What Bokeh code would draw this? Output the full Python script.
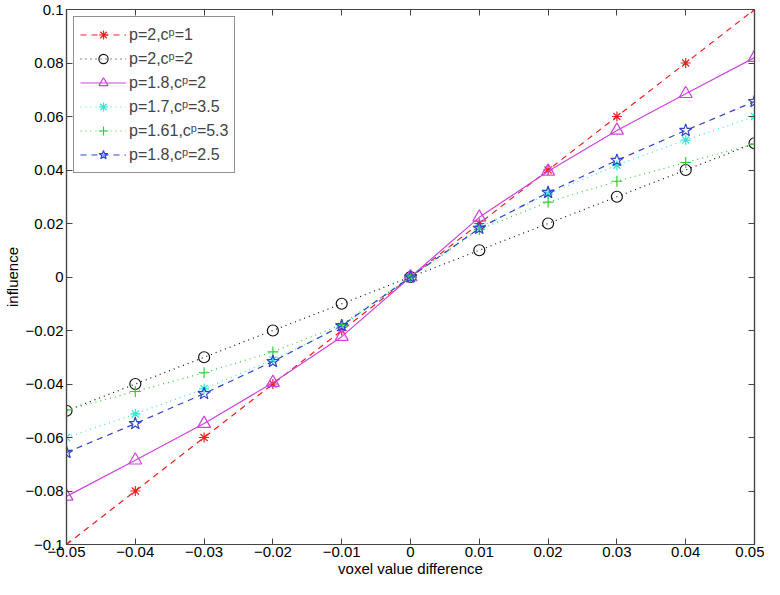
from bokeh.plotting import figure
from bokeh.models import FixedTicker, LinearAxis, Range1d, Legend
from bokeh.embed import file_html
from bokeh.resources import INLINE

x = [-0.05, -0.04, -0.03, -0.02, -0.01, 0.0, 0.01, 0.02, 0.03, 0.04, 0.05]
y_p2_c1 = [-0.1, -0.08, -0.06, -0.04, -0.02, 0.0, 0.02, 0.04, 0.06, 0.08, 0.1]
y_p2_c2 = [-0.05, -0.04, -0.03, -0.02, -0.01, 0.0, 0.01, 0.02, 0.03, 0.04, 0.05]
y_p18_c2 = [-0.082, -0.0685, -0.0548, -0.0395, -0.0223, 0.0, 0.0223, 0.0395, 0.0548, 0.0685, 0.082]
y_p17_c35 = [-0.06, -0.0512, -0.0418, -0.031, -0.0185, 0.0, 0.0185, 0.031, 0.0418, 0.0512, 0.06]
y_p161_c53 = [-0.0497, -0.0428, -0.0358, -0.028, -0.0178, 0.0, 0.0178, 0.028, 0.0358, 0.0428, 0.0497]
y_p18_c25 = [-0.0656, -0.0548, -0.0436, -0.0316, -0.0182, 0.0, 0.0182, 0.0316, 0.0436, 0.0548, 0.0656]

labels = ["p=2,c\u1D56=1", "p=2,c\u1D56=2", "p=1.8,c\u1D56=2",
          "p=1.7,c\u1D56=3.5", "p=1.61,c\u1D56=5.3", "p=1.8,c\u1D56=2.5"]

x_ticks = [-0.05, -0.04, -0.03, -0.02, -0.01, 0.0, 0.01, 0.02, 0.03, 0.04, 0.05]
x_tick_labels = ["\u22120.05", "\u22120.04", "\u22120.03", "\u22120.02", "\u22120.01", "0",
                 "0.01", "0.02", "0.03", "0.04", "0.05"]
y_ticks = [-0.1, -0.08, -0.06, -0.04, -0.02, 0.0, 0.02, 0.04, 0.06, 0.08, 0.1]
y_tick_labels = ["\u22120.1", "\u22120.08", "\u22120.06", "\u22120.04", "\u22120.02", "0",
                 "0.02", "0.04", "0.06", "0.08", "0.1"]

FONT = "Liberation Sans"
AXC = "#444444"

p = figure(width=764, height=579, output_backend="svg", toolbar_location=None,
           x_range=Range1d(-0.05, 0.05), y_range=Range1d(-0.1, 0.1),
           min_border_left=56, min_border_right=10, min_border_top=9, min_border_bottom=28)
p.xgrid.visible = False
p.ygrid.visible = False
p.outline_line_color = AXC
p.outline_line_width = 1.2
p.background_fill_color = "white"

def style_axis(ax):
    ax.major_tick_in = 6
    ax.major_tick_out = 0
    ax.minor_tick_in = 0
    ax.minor_tick_out = 0
    ax.axis_line_color = AXC
    ax.axis_line_width = 1.2
    ax.major_tick_line_color = AXC
    ax.major_tick_line_width = 1
    ax.major_label_text_font = FONT
    ax.major_label_text_font_size = "15px"
    ax.major_label_text_color = "black"
    ax.axis_label_text_font = FONT
    ax.axis_label_text_font_size = "15px"
    ax.axis_label_text_font_style = "normal"
    ax.axis_label_text_color = "black"

xax = p.xaxis[0]
xax.ticker = FixedTicker(ticks=x_ticks)
xax.major_label_overrides = dict(zip(x_ticks, x_tick_labels))
xax.axis_label = "voxel value difference"
xax.axis_label_standoff = 0
xax.major_label_standoff = 2
style_axis(xax)

yax = p.yaxis[0]
yax.ticker = FixedTicker(ticks=y_ticks)
yax.major_label_overrides = dict(zip(y_ticks, y_tick_labels))
yax.axis_label = "influence"
yax.axis_label_standoff = 2
yax.major_label_standoff = 3
style_axis(yax)

top = LinearAxis(ticker=FixedTicker(ticks=x_ticks))
style_axis(top)
top.major_label_overrides = {t: "" for t in x_ticks}
top.major_label_standoff = 0
p.add_layout(top, "above")
right = LinearAxis(ticker=FixedTicker(ticks=y_ticks))
style_axis(right)
right.major_label_overrides = {t: "" for t in y_ticks}
right.major_label_standoff = 0
p.add_layout(right, "right")

series = [
    (y_p2_c1, "#ee2020", "asterisk", "6 5", 10),
    (y_p2_c2, "#111111", "circle", "1 4", 11),
    (y_p18_c2, "#cc44dd", "triangle", "solid", 13),
    (y_p17_c35, "#33e8d0", "asterisk", "1 4", 10),
    (y_p161_c53, "#33cc33", "cross", "1 4", 11),
    (y_p18_c25, "#3344cc", "star", "6 5", 13),
]

items = []
for (ys, col, mk, dash, sz), lab in zip(series, labels):
    l = p.line(x, ys, line_color=col, line_width=1.2, line_dash=dash)
    s = p.scatter(x, ys, marker=mk, size=sz, line_color=col, fill_color=None, line_width=1.2)
    items.append((lab, [l, s]))

leg = Legend(items=items, location="top_left")
leg.margin = 7
leg.padding = 6
leg.spacing = 1
leg.label_text_font = FONT
leg.label_text_font_size = "16px"
leg.label_height = 23
leg.glyph_height = 23
leg.glyph_width = 46
leg.label_standoff = 3
leg.border_line_color = "#222222"
leg.border_line_width = 1
leg.background_fill_alpha = 1
p.add_layout(leg)

open("out.html", "w").write(file_html(p, INLINE))
